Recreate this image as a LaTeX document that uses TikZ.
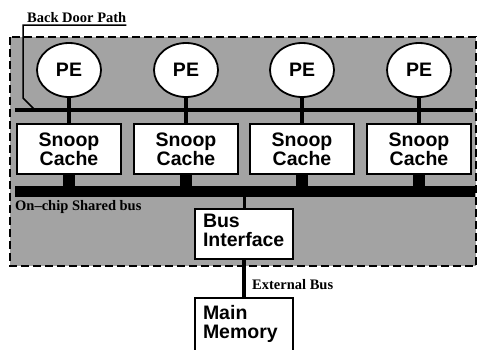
\documentclass[tikz,border=0pt]{standalone}
\usepackage{fontspec}
\setmainfont{Liberation Serif}
\newfontfamily\helv{Liberation Sans}
\usepackage{tikz}
\usetikzlibrary{shapes,calc,positioning}
\definecolor{chipgray}{gray}{0.64}

\begin{document}
\begin{tikzpicture}[x=1pt,y=-1pt,
    pe/.style={draw,ellipse,line width=1.8pt,fill=white,minimum width=64pt,minimum height=54pt,inner sep=0pt,font=\helv\bfseries\fontsize{19.5}{18}\selectfont},
    cachebox/.style={draw,line width=1.8pt,fill=white,minimum width=104pt,minimum height=50pt,align=center,font=\helv\bfseries\fontsize{19.5}{18}\selectfont},
    unitbox/.style={draw,line width=1.8pt,fill=white,anchor=north,text width=82pt,inner xsep=8pt,inner ysep=5pt,align=left,font=\helv\bfseries\fontsize{19.5}{19}\selectfont},
    lbl/.style={inner sep=0pt,font=\bfseries\fontsize{14.5}{16}\selectfont}]
        \clip (0,0) rectangle (478,349);
        % Chip area (dashed border)
        \draw[line width=2pt,dash pattern=on 8pt off 4pt,fill=chipgray] (10,37) rectangle (476,266);
        % Define coordinates
        \coordinate (sbL) at (15,110);
        \coordinate (sbR) at (473,110);
        \coordinate (busL) at (15,191.5);
        \coordinate (busR) at (475,191.5);
        \coordinate (bdturn) at (23,25);
        \coordinate (bdbend) at (23,98);
        \coordinate (bdend) at (34,109);
        % Processing elements and snoop caches
        \foreach \i/\x in {1/69,2/186,3/302,4/419}{
            \node[pe] (pe\i) at (\x,70) {PE};
            \node[cachebox] (cache\i) at (\x,149) {Snoop\\Cache};
        }
        % Snoop bus and shared bus
        \draw[line width=4pt] (sbL) -- (sbR);
        \draw[line width=11pt] (busL) -- (busR);
        \foreach \i in {1,...,4}{
            \draw[line width=4pt] (pe\i.south) -- (cache\i.north);
            \draw[line width=12pt] (cache\i.south) -- (cache\i.south |- busL);
        }
        % Bus interface and main memory
        \node[unitbox,text depth=27pt] (bif) at (244,208) {Bus\\Interface};
        \node[unitbox,inner ysep=7pt,text depth=45pt] (mem) at (244,297) {Main\\Memory};
        \draw[line width=3pt] (bif.north |- busL) -- (bif.north);
        \draw[line width=4pt] (bif.south) -- (mem.north);
        % Labels
        \node[lbl,anchor=base west] (bdlabel) at (27,22) {Back Door Path};
        \node[lbl,anchor=base west] (buslabel) at (15,210) {On--chip Shared bus};
        \node[lbl,anchor=base west] (extlabel) at (252,289) {External Bus};
        % Back door path
        \draw[line width=1.5pt] (bdlabel.south east |- bdturn) -- (bdturn) -- (bdbend) -- (bdend);
      \end{tikzpicture}
\end{document}
